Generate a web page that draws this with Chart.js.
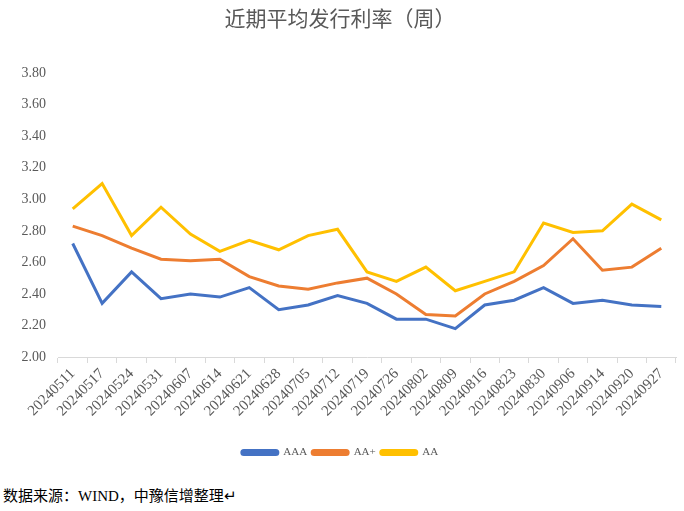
<!DOCTYPE html>
<html>
<head>
<meta charset="utf-8">
<script src="https://cdn.jsdelivr.net/npm/chart.js@4/dist/chart.umd.min.js"></script>
<style>
  body { margin: 0; background: #fff; }
  #wrap { position: relative; width: 684px; height: 478px; }
  #note { position: absolute; left: 3px; top: 484px; font-family: 'Liberation Serif', 'Noto Sans CJK SC', serif; font-size: 15px; color: #000; }
</style>
</head>
<body>
<div id="wrap"><canvas id="rateChart"></canvas></div>
<div id="note">数据来源：WIND，中豫信增整理↵</div>
<script>
// 周度日期
const weeks = ['20240511', '20240517', '20240524', '20240531', '20240607', '20240614', '20240621',
    '20240628', '20240705', '20240712', '20240719', '20240726', '20240802', '20240809',
    '20240816', '20240823', '20240830', '20240906', '20240914', '20240920', '20240927'];

// 各评级平均发行利率 (%)
const aaa = [2.72, 2.34, 2.54, 2.37, 2.40, 2.38, 2.44, 2.30, 2.33, 2.39, 2.34,
    2.24, 2.24, 2.18, 2.33, 2.36, 2.44, 2.34, 2.36, 2.33, 2.32];
const aaPlus = [2.83, 2.77, 2.69, 2.62, 2.61, 2.62, 2.51, 2.45, 2.43, 2.47, 2.50,
    2.40, 2.27, 2.26, 2.40, 2.48, 2.58, 2.75, 2.55, 2.57, 2.69];
const aa = [2.94, 3.10, 2.77, 2.95, 2.78, 2.67, 2.74, 2.68, 2.77, 2.81, 2.54,
    2.48, 2.57, 2.42, 2.48, 2.54, 2.85, 2.79, 2.80, 2.97, 2.87];

const yMin = 2.0;
const yMax = 3.8;
const yStep = 0.2;

const fontFamily = "'Liberation Serif', 'Noto Sans CJK SC', serif";
const grey = '#595959';

const makeLine = (label, data, color) => ({
    label: label,
    data: data,
    borderColor: color,
    backgroundColor: color,
    borderWidth: 3,
    pointRadius: 0,
    tension: 0
});

const ctx = document.getElementById('rateChart').getContext('2d');
new Chart(ctx, {
    type: 'line',
    data: {
        labels: weeks,
        datasets: [
            makeLine('AAA', aaa, '#4472C4'),
            makeLine('AA+', aaPlus, '#ED7D31'),
            makeLine('AA', aa, '#FFC000')
        ]
    },
    options: {
        responsive: true,
        maintainAspectRatio: false,
        animation: false,
        layout: { padding: { left: 4, right: 8, top: 2, bottom: 10 } },
        plugins: {
            title: {
                display: true,
                text: '近期平均发行利率（周）',
                color: grey,
                font: { family: fontFamily, size: 21, weight: 'normal' },
                padding: { top: 6, bottom: 40 }
            },
            legend: {
                position: 'bottom',
                labels: {
                    boxWidth: 36,
                    boxHeight: 4,
                    useBorderRadius: true,
                    borderRadius: 2,
                    color: grey,
                    font: { family: fontFamily, size: 11 },
                    padding: 5
                }
            },
            tooltip: { enabled: false }
        },
        scales: {
            x: {
                offset: true,
                grid: {
                    offset: true,
                    drawOnChartArea: false,
                    drawTicks: true,
                    tickLength: 6,
                    color: '#d9d9d9'
                },
                border: { color: '#d9d9d9' },
                ticks: {
                    color: grey,
                    font: { family: fontFamily, size: 15 },
                    minRotation: 45,
                    maxRotation: 45,
                    autoSkip: false,
                    padding: 2
                },
                afterFit: (scale) => { scale.height = 85; }
            },
            y: {
                min: yMin,
                max: yMax,
                grid: { display: false, drawTicks: false },
                border: { display: false },
                ticks: {
                    stepSize: yStep,
                    color: grey,
                    font: { family: fontFamily, size: 14 },
                    padding: 12,
                    callback: (v) => v.toFixed(2)
                },
                afterFit: (scale) => { scale.width = 54; }
            }
        }
    }
});
</script>
</body>
</html>
